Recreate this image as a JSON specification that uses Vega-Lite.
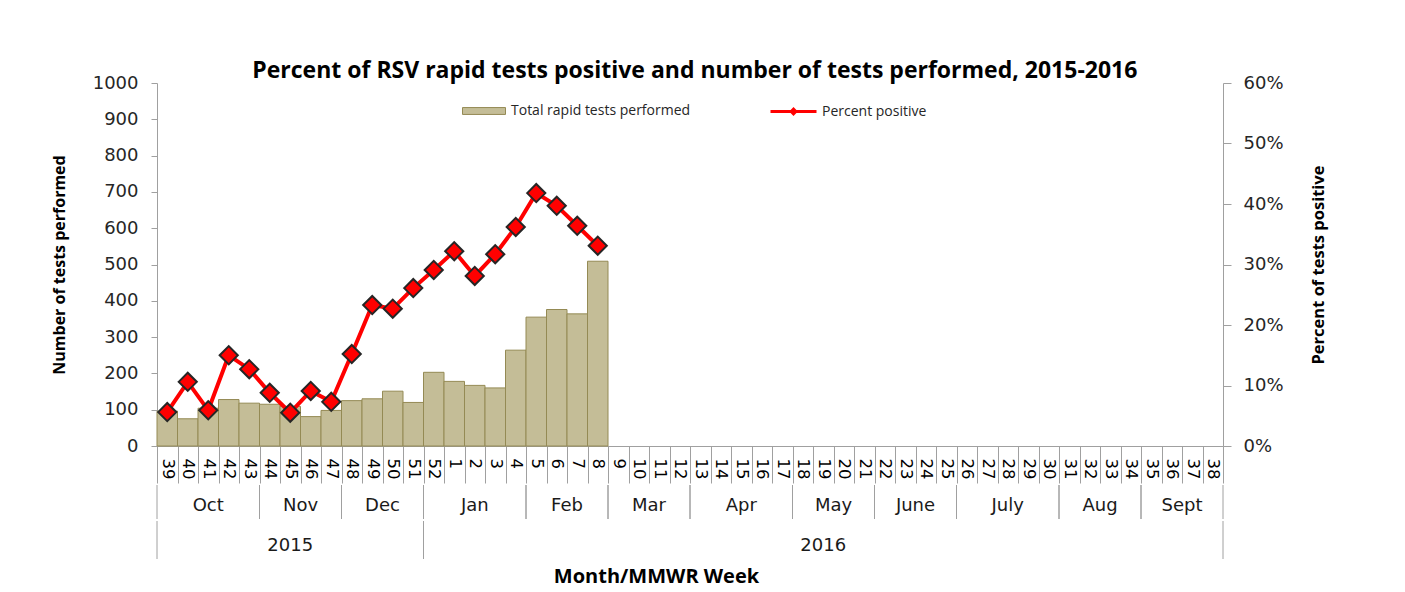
{
  "$schema": "https://vega.github.io/schema/vega-lite/v6.json",
  "background": "white",
  "padding": {"left": 51, "top": 60, "right": 10, "bottom": 8},
  "title": {"text": "Percent of RSV rapid tests positive and number of tests performed, 2015-2016", "font": "Open Sans", "fontSize": 23, "fontWeight": "bold", "color": "#000000", "offset": -9, "dx": 6, "anchor": "middle"},
  "config": {"view": {"stroke": null}, "font": "Open Sans", "axis": {"grid": false, "domainColor": "#A0A0A0", "tickColor": "#A0A0A0", "labelColor": "#262626", "titleColor": "#000000", "labelFont": "DejaVu Sans", "titleFont": "Open Sans"}},
  "spacing": 0,
  "datasets": {
    "weeks": [
      {"wk": "39", "tests": 96, "pct": 0.056},
      {"wk": "40", "tests": 75, "pct": 0.106},
      {"wk": "41", "tests": 104, "pct": 0.059},
      {"wk": "42", "tests": 128, "pct": 0.150},
      {"wk": "43", "tests": 118, "pct": 0.127},
      {"wk": "44", "tests": 115, "pct": 0.088},
      {"wk": "45", "tests": 109, "pct": 0.055},
      {"wk": "46", "tests": 81, "pct": 0.091},
      {"wk": "47", "tests": 98, "pct": 0.073},
      {"wk": "48", "tests": 125, "pct": 0.152},
      {"wk": "49", "tests": 130, "pct": 0.233},
      {"wk": "50", "tests": 151, "pct": 0.227},
      {"wk": "51", "tests": 120, "pct": 0.261},
      {"wk": "52", "tests": 203, "pct": 0.291},
      {"wk": "1", "tests": 178, "pct": 0.322},
      {"wk": "2", "tests": 167, "pct": 0.281},
      {"wk": "3", "tests": 160, "pct": 0.317},
      {"wk": "4", "tests": 264, "pct": 0.362},
      {"wk": "5", "tests": 355, "pct": 0.418},
      {"wk": "6", "tests": 376, "pct": 0.397},
      {"wk": "7", "tests": 364, "pct": 0.364},
      {"wk": "8", "tests": 509, "pct": 0.331},
      {"wk": "9", "tests": null, "pct": null},
      {"wk": "10", "tests": null, "pct": null},
      {"wk": "11", "tests": null, "pct": null},
      {"wk": "12", "tests": null, "pct": null},
      {"wk": "13", "tests": null, "pct": null},
      {"wk": "14", "tests": null, "pct": null},
      {"wk": "15", "tests": null, "pct": null},
      {"wk": "16", "tests": null, "pct": null},
      {"wk": "17", "tests": null, "pct": null},
      {"wk": "18", "tests": null, "pct": null},
      {"wk": "19", "tests": null, "pct": null},
      {"wk": "20", "tests": null, "pct": null},
      {"wk": "21", "tests": null, "pct": null},
      {"wk": "22", "tests": null, "pct": null},
      {"wk": "23", "tests": null, "pct": null},
      {"wk": "24", "tests": null, "pct": null},
      {"wk": "25", "tests": null, "pct": null},
      {"wk": "26", "tests": null, "pct": null},
      {"wk": "27", "tests": null, "pct": null},
      {"wk": "28", "tests": null, "pct": null},
      {"wk": "29", "tests": null, "pct": null},
      {"wk": "30", "tests": null, "pct": null},
      {"wk": "31", "tests": null, "pct": null},
      {"wk": "32", "tests": null, "pct": null},
      {"wk": "33", "tests": null, "pct": null},
      {"wk": "34", "tests": null, "pct": null},
      {"wk": "35", "tests": null, "pct": null},
      {"wk": "36", "tests": null, "pct": null},
      {"wk": "37", "tests": null, "pct": null},
      {"wk": "38", "tests": null, "pct": null}
    ],
    "months": [
      {"month": "Oct", "start": 0, "end": 5},
      {"month": "Nov", "start": 5, "end": 9},
      {"month": "Dec", "start": 9, "end": 13},
      {"month": "Jan", "start": 13, "end": 18},
      {"month": "Feb", "start": 18, "end": 22},
      {"month": "Mar", "start": 22, "end": 26},
      {"month": "Apr", "start": 26, "end": 31},
      {"month": "May", "start": 31, "end": 35},
      {"month": "June", "start": 35, "end": 39},
      {"month": "July", "start": 39, "end": 44},
      {"month": "Aug", "start": 44, "end": 48},
      {"month": "Sept", "start": 48, "end": 52}
    ],
    "years": [
      {"year": "2015", "start": 0, "end": 13},
      {"year": "2016", "start": 13, "end": 52}
    ]
  },
  "vconcat": [
    {
      "width": 1066,
      "height": 363,
      "data": {"name": "weeks"},
      "encoding": {
        "x": {"field": "wk", "type": "nominal", "sort": null, "scale": {"paddingInner": 0, "paddingOuter": 0},
          "axis": {"title": null, "labelAngle": 90, "labelFontSize": 16.5, "tickBand": "extent", "tickSize": 37, "labelPadding": -25, "labelOverlap": false, "labelColor": "#000000"}}
      },
      "layer": [
        {
          "mark": {"type": "bar", "stroke": "#948A54", "strokeWidth": 1},
          "encoding": {
            "y": {"field": "tests", "type": "quantitative", "scale": {"domain": [0, 1000], "nice": false},
              "axis": {"values": [0, 100, 200, 300, 400, 500, 600, 700, 800, 900, 1000], "format": "d", "title": "Number of tests performed", "titleFontSize": 16, "titleFontWeight": "bold", "titlePadding": 25, "labelFontSize": 18, "tickSize": 6, "labelPadding": 13}},
            "fill": {"datum": "Total rapid tests performed", "type": "nominal", "scale": {"range": ["#C4BD97"]},
              "legend": {"title": null, "orient": "none", "legendX": 305, "legendY": 6, "labelFontSize": 14, "labelLimit": 400, "labelColor": "#262626", "labelFont": "Open Sans", "symbolType": "M-1,-0.16L1,-0.16L1,0.16L-1,0.16Z", "symbolSize": 1849, "symbolStrokeColor": "#948A54", "symbolStrokeWidth": 1, "labelOffset": 5}}
          }
        },
        {
          "encoding": {
            "y": {"field": "pct", "type": "quantitative", "scale": {"domain": [0, 0.6], "nice": false},
              "axis": {"orient": "right", "values": [0, 0.1, 0.2, 0.3, 0.4, 0.5, 0.6], "format": ".0%", "title": "Percent of tests positive", "titleAngle": -90, "titleBaseline": "top", "titleFontSize": 16.5, "titleFontWeight": "bold", "titlePadding": 27, "labelFontSize": 18, "tickSize": 8, "labelPadding": 12}}
          },
          "layer": [
            {
              "mark": {"type": "line", "strokeWidth": 4},
              "encoding": {
                "stroke": {"datum": "Percent positive", "type": "nominal", "scale": {"range": ["#FF0000"]},
                  "legend": {"title": null, "orient": "none", "legendX": 612, "legendY": 4, "labelFontSize": 14, "labelLimit": 400, "labelColor": "#262626", "labelFont": "Open Sans", "symbolType": "M-1,0L1,0M-0.1,0L0,-0.1L0.1,0L0,0.1Z", "symbolSize": 2116, "symbolStrokeWidth": 3, "symbolFillColor": "#FF0000", "labelOffset": 4}}
              }
            },
            {
              "mark": {"type": "point", "shape": "diamond", "filled": true, "fill": "#FF0000", "stroke": "#262626", "strokeWidth": 2, "size": 330, "opacity": 1}
            }
          ]
        }
      ],
      "resolve": {"scale": {"y": "independent"}}
    },
    {
      "width": 1066,
      "height": 34,
      "data": {"name": "months"},
      "transform": [{"fold": ["start", "end"], "as": ["edge", "pos"]}],
      "layer": [
        {
          "mark": {"type": "rule", "color": "#A0A0A0", "strokeWidth": 1},
          "encoding": {"x": {"field": "pos", "type": "quantitative", "scale": {"domain": [0, 52], "nice": false, "zero": false}, "axis": null}}
        },
        {
          "mark": {"type": "text", "fontSize": 18, "color": "#1A1A1A", "dy": 3.5, "font": "DejaVu Sans"},
          "encoding": {
            "x": {"field": "pos", "type": "quantitative", "aggregate": "mean", "scale": {"domain": [0, 52], "nice": false, "zero": false}, "axis": null},
            "text": {"field": "month", "type": "nominal"}
          }
        }
      ]
    },
    {
      "width": 1066,
      "height": 38,
      "data": {"name": "years"},
      "transform": [{"fold": ["start", "end"], "as": ["edge", "pos"]}],
      "encoding": {"x": {"field": "pos", "type": "quantitative", "scale": {"domain": [0, 52], "nice": false, "zero": false},
        "axis": {"labels": false, "ticks": false, "domain": false, "title": "Month/MMWR Week", "titleFontSize": 20, "titleFontWeight": "bold", "titlePadding": 7, "titleX": 499}}},
      "layer": [
        {"mark": {"type": "rule", "color": "#A0A0A0", "strokeWidth": 1}, "encoding": {}},
        {
          "mark": {"type": "text", "fontSize": 18, "color": "#1A1A1A", "dy": 5.5, "font": "DejaVu Sans"},
          "encoding": {
            "x": {"field": "pos", "type": "quantitative", "aggregate": "mean"},
            "text": {"field": "year", "type": "nominal"}
          }
        }
      ]
    }
  ]
}
